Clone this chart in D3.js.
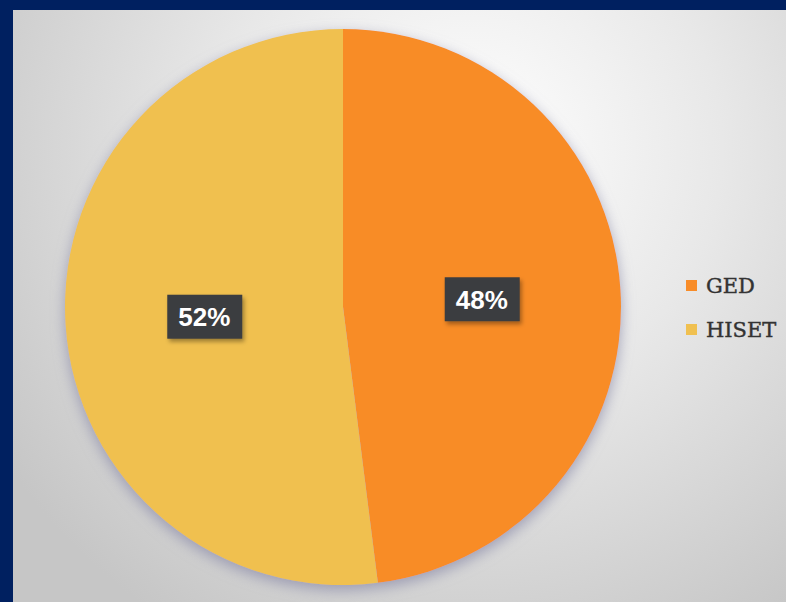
<!DOCTYPE html>
<html>
<head>
<meta charset="utf-8">
<script src="https://cdn.jsdelivr.net/npm/d3@7"></script>
<style>
html,body{margin:0;padding:0;background:#002060;}
svg{display:block;}
</style>
</head>
<body>
<svg id="c" width="786" height="602"></svg>
<script>
const categories = ["GED", "HISET"];
const values = [48, 52];
const labels = ["48%", "52%"];
const colors = ["#F88C28", "#F0C050"];

const W = 786, H = 602;
const svg = d3.select("#c");
const defs = svg.append("defs");

const bgGrad = defs.append("radialGradient").attr("id","bg")
  .attr("gradientUnits","userSpaceOnUse")
  .attr("cx",470).attr("cy",150).attr("r",560);
bgGrad.append("stop").attr("offset","0").attr("stop-color","#ffffff");
bgGrad.append("stop").attr("offset","0.45").attr("stop-color","#e8e8e8");
bgGrad.append("stop").attr("offset","1").attr("stop-color","#c6c6c6");

const sh = defs.append("filter").attr("id","pieShadow").attr("x","-20%").attr("y","-20%").attr("width","140%").attr("height","140%");
sh.append("feDropShadow").attr("dx",0).attr("dy",5).attr("stdDeviation",7).attr("flood-color","#8a8aa8").attr("flood-opacity",0.75);

const lsh = defs.append("filter").attr("id","lblShadow").attr("x","-20%").attr("y","-20%").attr("width","150%").attr("height","160%");
lsh.append("feDropShadow").attr("dx",2).attr("dy",3).attr("stdDeviation",2).attr("flood-color","#000").attr("flood-opacity",0.35);

svg.append("rect").attr("width",W).attr("height",H).attr("fill","#002060");
svg.append("rect").attr("x",13).attr("y",10).attr("width",W-13).attr("height",H-10).attr("fill","url(#bg)");

const cx = 343, cy = 307, r = 278;
const g = svg.append("g").attr("transform",`translate(${cx},${cy})`);

const pie = d3.pie().sort(null).value(d => d)(values);
const arc = d3.arc().innerRadius(0).outerRadius(r);
const labelArc = d3.arc().innerRadius(r*0.5).outerRadius(r*0.5);

const slices = g.append("g").attr("filter","url(#pieShadow)");
slices.selectAll("path").data(pie).join("path")
  .attr("d", arc)
  .attr("fill", (d,i) => colors[i]);

const lg = g.selectAll("g.lbl").data(pie).join("g").attr("class","lbl")
  .attr("transform", d => { const c = labelArc.centroid(d); return `translate(${c[0]},${c[1]+1})`; });
lg.append("rect").attr("x",-37).attr("y",-22).attr("width",75).attr("height",44)
  .attr("fill","#3b3d40").attr("filter","url(#lblShadow)");
lg.append("text").text((d,i) => labels[i])
  .attr("text-anchor","middle").attr("dy","0.36em")
  .attr("font-family","Liberation Sans, Arial, sans-serif").attr("font-weight","bold")
  .attr("font-size",26).attr("fill","#ffffff");

const leg = svg.append("g").attr("transform","translate(686,285)");
const li = leg.selectAll("g").data(categories).join("g")
  .attr("transform",(d,i)=>`translate(0,${i*44})`);
li.append("rect").attr("x",0).attr("y",-5).attr("width",11).attr("height",11).attr("fill",(d,i)=>colors[i]);
li.append("text").text(d=>d).attr("x",20).attr("y",0).attr("dy","0.36em")
  .attr("font-family","DejaVu Serif, serif").attr("font-size",21).attr("fill","#333333")
  .attr("stroke","#333333").attr("stroke-width",0.4);
</script>
</body>
</html>
